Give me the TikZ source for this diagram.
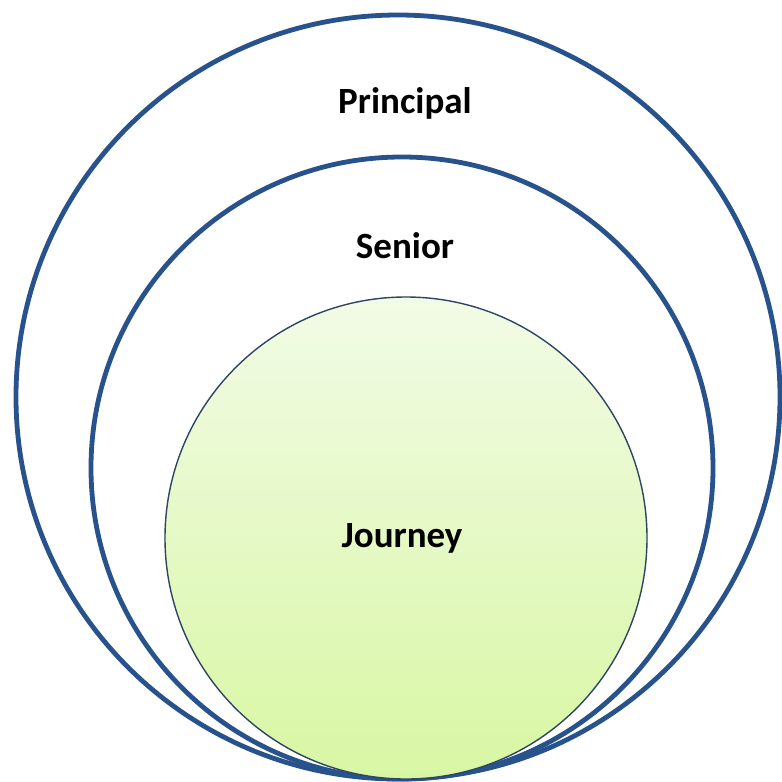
\documentclass[tikz,border=0pt]{standalone}
\usepackage{fontspec}
\setmainfont{Carlito}
\begin{document}
\begin{tikzpicture}[x=1pt,y=-1pt,
  ring/.style={draw=ringblue, line width=4.8pt},
  core/.style={draw=coreline, line width=1.4pt, top color=coretop, bottom color=corebot},
  lbl/.style={anchor=base, font=\fontsize{37}{40}\selectfont\bfseries, text=black, inner sep=0pt}]
\definecolor{ringblue}{RGB}{40,82,140}
\definecolor{coreline}{RGB}{45,70,100}
\definecolor{coretop}{RGB}{242,251,230}
\definecolor{corebot}{RGB}{216,247,163}
\useasboundingbox (0,0) rectangle (782,782);
\fill[white] (0,0) rectangle (782,782);
\path[ring] (398,397) circle[radius=382];
\path[ring] (402,468) circle[radius=311];
\path[core] (406,538) circle[radius=241];
\node[lbl] (principal) at (405,113) {Principal};
\node[lbl] (senior) at (405,258) {Senior};
\node[lbl] (journey) at (402,547) {Journey};
\end{tikzpicture}
\end{document}
